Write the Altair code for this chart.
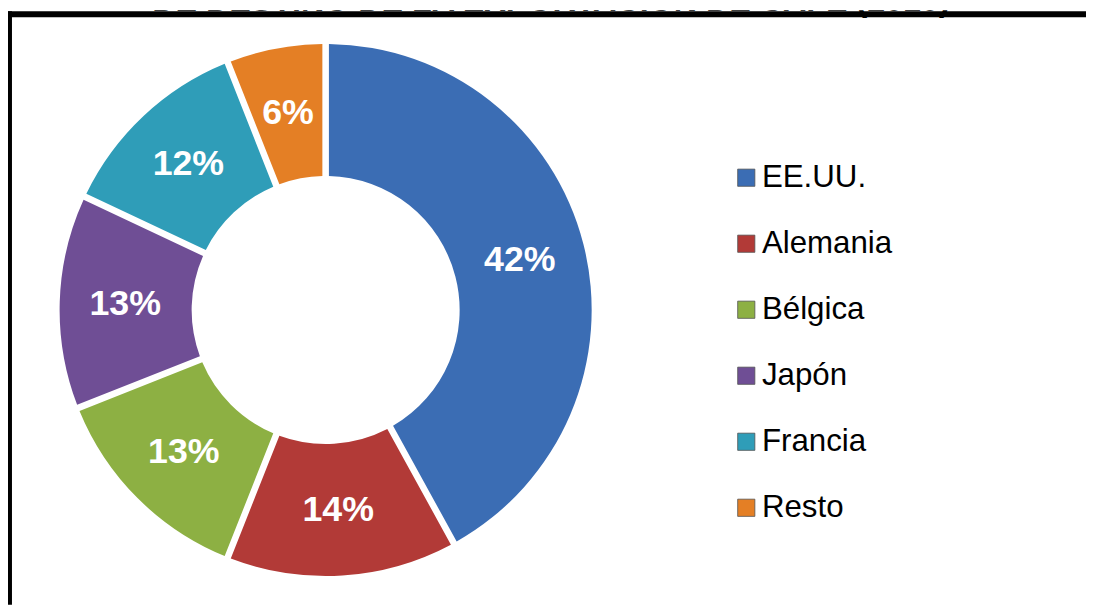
import altair as alt
import pandas as pd

paises = ["EE.UU.", "Alemania", "Bélgica", "Japón", "Francia", "Resto"]
porcentajes = [42, 14, 13, 13, 12, 6]
colores = ["#3b6db4", "#b23a37", "#8db043", "#6f4e95", "#2f9db8", "#e47f25"]
titulo = "DE DESTINO DE LA EXPORTACIÓN DE CAFÉ (2010)"

df = pd.DataFrame({"pais": paises, "pct": porcentajes, "orden": list(range(len(paises)))})
df["etiqueta"] = df["pct"].astype(str) + "%"

W, H = 1086, 599
CX, CY = 320, 302
FONT = "Liberation Sans"

base = alt.Chart(df).encode(
    theta=alt.Theta("pct:Q", stack=True),
    order=alt.Order("orden:Q"),
)

arcs = base.mark_arc(radius=268, radius2=135, padAngle=0.022, x=CX, y=CY).encode(
    color=alt.Color(
        "pais:N",
        scale=alt.Scale(domain=paises, range=colores),
        sort=paises,
        legend=alt.Legend(
            title=None,
            orient="none",
            legendX=728,
            legendY=153,
            symbolType="square",
            symbolSize=300,
            symbolStrokeWidth=0.8,
            symbolStrokeColor="#555555",
            labelFontSize=31.5,
            labelFont=FONT,
            labelColor="black",
            labelOffset=0,
            rowPadding=33.5,
            padding=0,
        ),
    )
)

labels = base.mark_text(
    radius=202, x=CX, y=CY, fontSize=36, fontWeight="bold", color="white", font=FONT
).encode(text="etiqueta:N")

title_df = pd.DataFrame({"t": [titulo]})
title = alt.Chart(title_df).mark_text(
    x=547, y=1, baseline="alphabetic", align="center", fontSize=32.5, fontWeight="bold",
    font=FONT, color="black", clip=True
).encode(text="t:N")

frame_top = alt.Chart(title_df).mark_rule(color="black", strokeWidth=6).encode(
    x=alt.value(-2), x2=alt.value(W), y=alt.value(4)
)
frame_left = alt.Chart(title_df).mark_rule(color="black", strokeWidth=6).encode(
    x=alt.value(1), y=alt.value(1), y2=alt.value(H)
)

chart = alt.layer(arcs, labels, title, frame_top, frame_left).properties(
    width=W,
    height=H,
    autosize=alt.AutoSizeParams(type="none"),
    padding=0,
).configure_view(stroke=None)

chart.save("out.html", embed_options={"renderer": "svg", "actions": False})
